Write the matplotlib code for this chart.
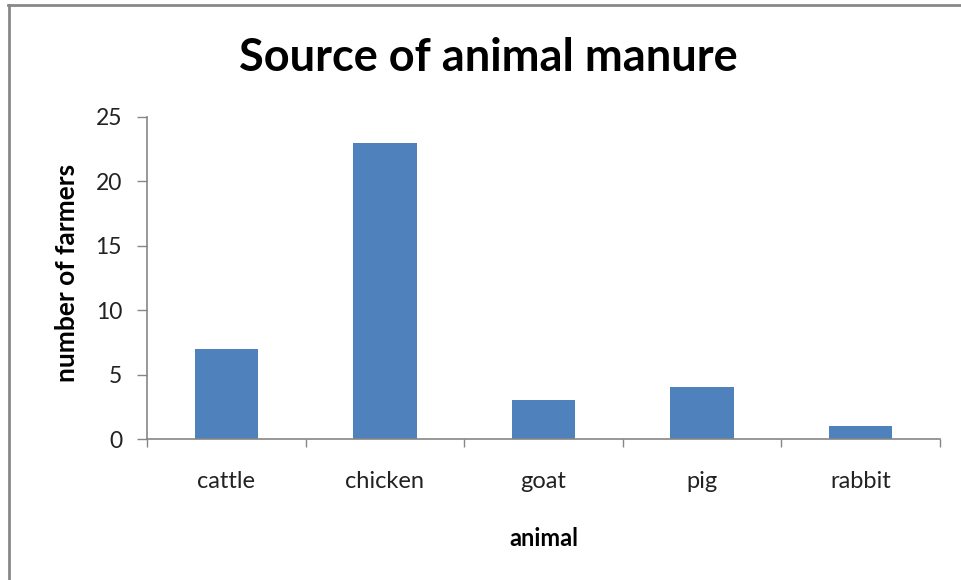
import matplotlib.pyplot as plt
import numpy as np
from matplotlib.lines import Line2D

# ----------- Data -----------

animals = ["cattle", "chicken", "goat", "pig", "rabbit"]
farmers = [7, 23, 3, 4, 1]

# ----------- Plot -----------

plt.rcParams["font.family"] = ["Lato", "DejaVu Sans"]

fig = plt.figure(figsize=(9.61, 5.80), dpi=100)
ax = fig.add_axes([0.153, 0.2431, 0.825, 0.5552])

x = np.arange(len(animals))
ax.bar(x, farmers, width=0.4, color="#4F81BD")

ax.set_xlim(-0.5, len(animals) - 0.5)
ax.set_ylim(0, 25)
ax.set_yticks(range(0, 26, 5))

# category labels at the centres, tick marks between categories
ax.set_xticks(x)
ax.set_xticklabels(animals)
ax.set_xticks(np.arange(-0.5, len(animals)), minor=True)
ax.tick_params(axis="x", which="major", length=0, pad=23, labelsize=17, colors="#222222")
ax.tick_params(axis="x", which="minor", length=6, width=1, color="#868686", direction="out")
ax.tick_params(axis="y", length=7, width=1, color="#868686", pad=11, labelsize=16.5, labelcolor="#222222")

for side in ["top", "right"]:
    ax.spines[side].set_visible(False)
for side in ["left", "bottom"]:
    ax.spines[side].set_color("#868686")
    ax.spines[side].set_linewidth(1.2)

ax.set_ylabel("number of farmers", fontsize=19, fontweight="bold", labelpad=12)
ax.yaxis.label.set_y(0.515)
ax.set_xlabel("animal", fontsize=17, fontweight="bold", labelpad=25)
fig.text(0.508, 0.90, "Source of animal manure", ha="center", va="center",
         fontsize=32.5, fontweight="bold")

# chart frame (top and left edges)
fig.add_artist(Line2D([0.008, 1.0], [0.992, 0.992], color="#888888", lw=2, transform=fig.transFigure))
fig.add_artist(Line2D([0.009, 0.009], [0.0, 0.992], color="#888888", lw=2, transform=fig.transFigure))

plt.savefig("out.png", dpi=100)
plt.close()
